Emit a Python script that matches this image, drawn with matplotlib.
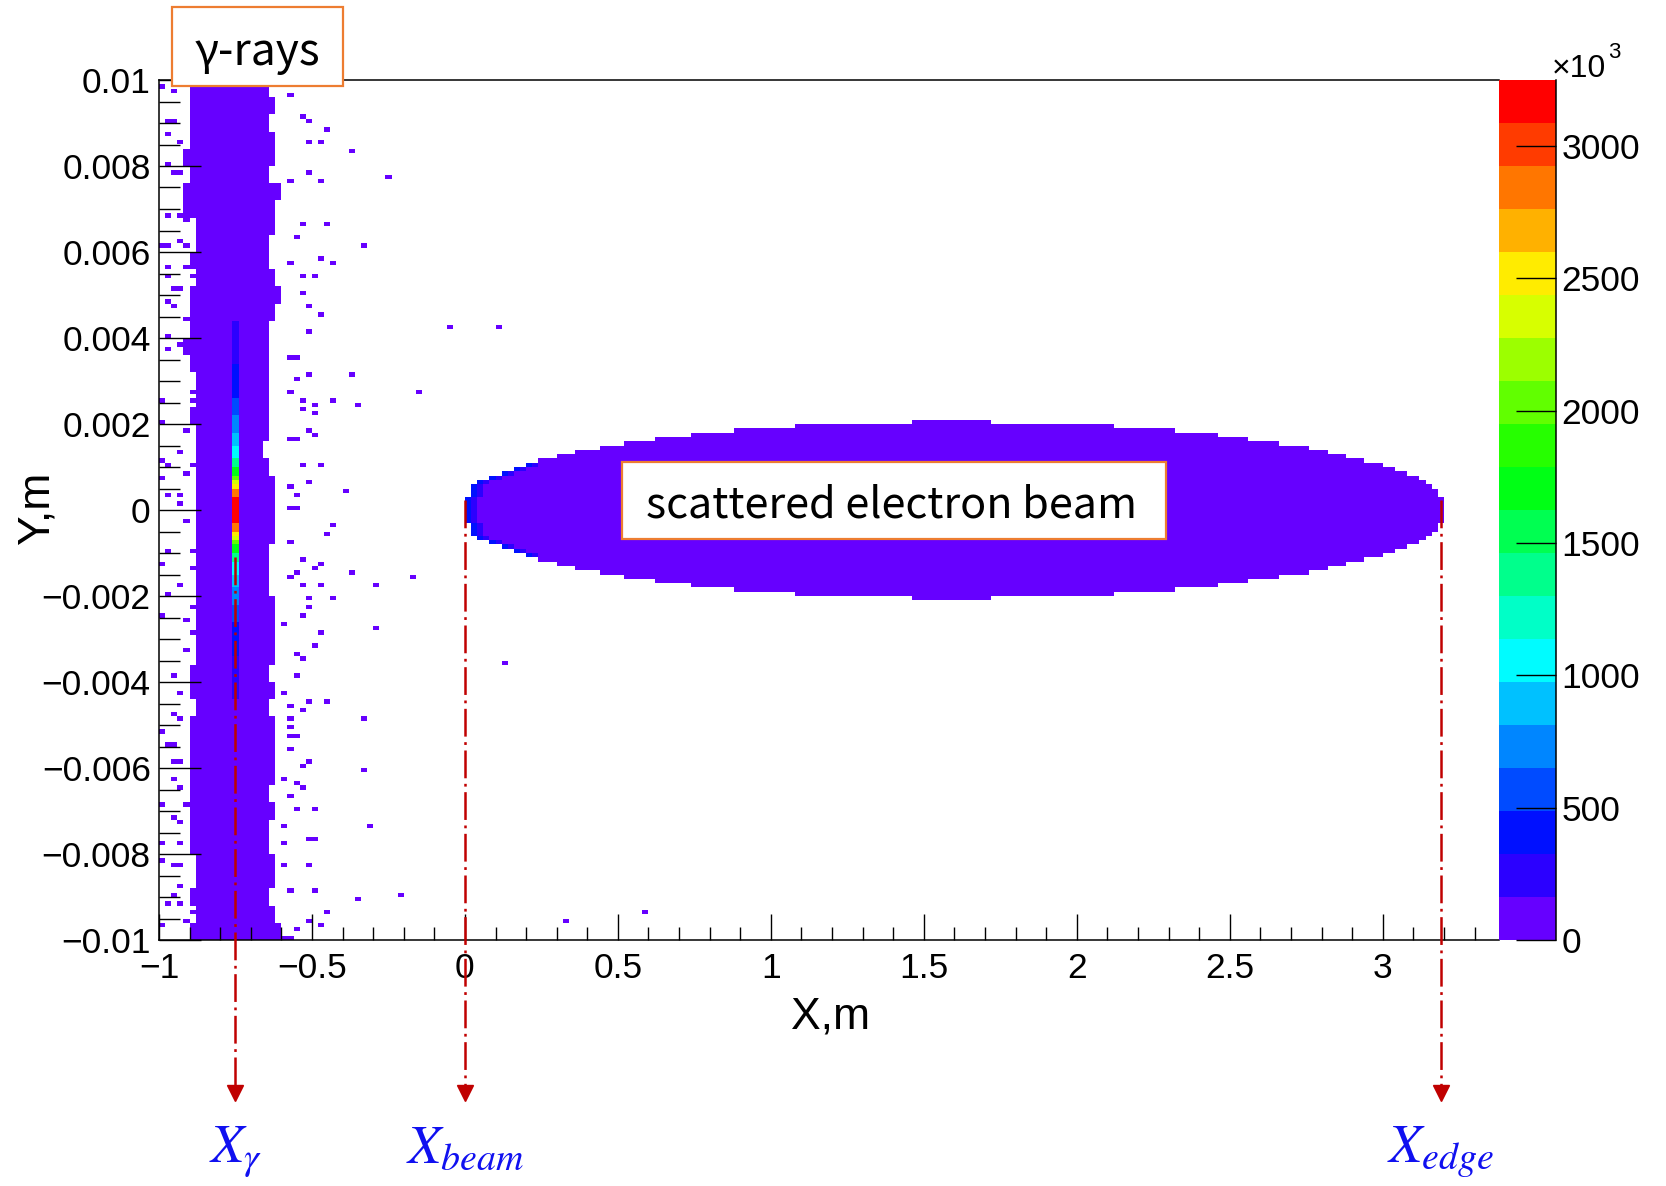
import numpy as np
import matplotlib
matplotlib.use('Agg')
import matplotlib.pyplot as plt
from matplotlib.colors import ListedColormap, BoundaryNorm, hsv_to_rgb
from matplotlib.patches import Rectangle
from matplotlib.ticker import MultipleLocator
from matplotlib.transforms import blended_transform_factory

plt.rcParams['font.family'] = ['Liberation Sans', 'DejaVu Sans']
plt.rcParams['lines.scale_dashes'] = False

# ---- histogram binning (x: 0.02 m, y: 0.0001 m)
x_lo, x_hi, x_bin = -1.0, 3.4, 0.02
y_lo, y_hi, y_bin = -0.01, 0.01, 0.0001

# ---- counts are in units of 10^3
z_max = 3250
n_levels = 20

# gamma band: solid core edges per 0.0004 m slice, from top (y=0.01) to bottom
band_left = [-0.90, -0.90, -0.90, -0.90, -0.92, -0.90, -0.92, -0.92, -0.88, -0.88,
             -0.90, -0.88, -0.90, -0.90, -0.90, -0.92, -0.90,
             -0.88, -0.88, -0.90, -0.88, -0.88, -0.88, -0.88, -0.88, -0.88, -0.88,
             -0.88, -0.88, -0.88, -0.88, -0.88, -0.88, -0.88,
             -0.90, -0.90, -0.88, -0.90, -0.90, -0.90, -0.90, -0.90, -0.90, -0.90,
             -0.90, -0.88, -0.88, -0.90, -0.88, -0.90]
band_right = [-0.64, -0.62, -0.64, -0.62, -0.62, -0.64, -0.60, -0.62, -0.62, -0.64,
              -0.64, -0.62, -0.60, -0.62, -0.64, -0.64, -0.64,
              -0.64, -0.64, -0.64, -0.64, -0.66, -0.64, -0.62, -0.62, -0.62, -0.62,
              -0.64, -0.64, -0.64, -0.62, -0.62, -0.62, -0.62,
              -0.64, -0.62, -0.64, -0.62, -0.62, -0.62, -0.62, -0.64, -0.62, -0.64,
              -0.64, -0.62, -0.62, -0.64, -0.62, -0.60]
band_value = 60

# gamma peak column at x = -0.75: rows counted from y = 0 outwards
gamma_x = -0.75
gamma_col_rows = [3, 5, 6, 7, 8, 10, 12, 15, 18, 22, 26, 34, 44]
gamma_col_vals = [3150, 2850, 2550, 2300, 2000, 1700, 1350, 1050, 900, 720, 560, 400, 250]

# isolated hits around the band
stray_x = [-0.575, -0.532, -0.509, -0.444, -0.51, -0.466, -0.38, -0.51, -0.248, -0.575,
           -0.466, -0.532, -0.444, -0.554, -0.335, -0.466, -0.422, -0.575, -0.532, -0.488,
           -0.532, -0.51, -0.466, -0.05, 0.10, -0.51, -0.54, -0.56,
           -0.509, -0.38, -0.554, -0.159, -0.575, -0.532, -0.422, -0.488, -0.357, -0.532,
           -0.488, -0.51, -0.488, -0.554, -0.575, -0.532, -0.466, -0.51, -0.575, -0.40,
           -0.554, -0.54, -0.56, -0.422, -0.444, -0.575, -0.532, -0.466, -0.488, -0.554,
           -0.38, -0.18, -0.575, -0.532, -0.466, -0.29, -0.51, -0.422, -0.51, -0.532,
           -0.597, -0.29, -0.466, -0.488, -0.554,
           -0.532, 0.124, -0.554, -0.597, -0.51, -0.444, -0.575, -0.532, -0.335, -0.575,
           -0.575, -0.54, -0.56, -0.575, -0.51, -0.532, -0.335, -0.597, -0.554, -0.532,
           -0.575, -0.554, -0.488, -0.313, -0.59, -0.50, -0.52, -0.597, -0.52, -0.597,
           -0.563, -0.488, -0.357, -0.202, -0.444, 0.587, -0.51, -0.466, 0.323, -0.554,
           -0.563, -0.583,
           -0.99, -0.95, -0.97, -0.95, -0.97, -0.93, -0.97, -0.93, -0.95, -0.97,
           -0.93, -0.91, -0.99, -0.97, -0.93, -0.91, -0.97, -0.91, -0.97, -0.89,
           -0.95, -0.93, -0.97, -0.95, -0.91, -0.89, -0.97, -0.93, -0.97,
           -0.99, -0.89, -0.89, -0.99, -0.91, -0.93, -0.99, -0.97, -0.89, -0.91,
           -0.99, -0.97, -0.93, -0.93, -0.91, -0.97, -0.89, -0.99, -0.89, -0.93,
           -0.97, -0.89, -0.99, -0.91, -0.89, -0.91,
           -0.95, -0.93, -0.95, -0.93, -0.99, -0.97, -0.95, -0.95, -0.93, -0.95,
           -0.93, -0.99, -0.91, -0.95, -0.93, -0.99, -0.93, -0.95, -0.93, -0.99,
           -0.93, -0.95, -0.97, -0.93, -0.89, -0.99, -0.91]
stray_y = [0.00967, 0.00917, 0.00905, 0.00886, 0.00855, 0.00855, 0.00836, 0.00786, 0.00775, 0.00767,
           0.00767, 0.00667, 0.00667, 0.00636, 0.00616, 0.00586, 0.00574, 0.00574, 0.00544, 0.00544,
           0.00505, 0.00474, 0.00455, 0.00425, 0.00427, 0.00416, 0.00354, 0.00354,
           0.00316, 0.00316, 0.00305, 0.00275, 0.00275, 0.00256, 0.00256, 0.00244, 0.00244, 0.00236,
           0.00227, 0.00186, 0.00174, 0.00167, 0.00167, 0.00105, 0.00105, 0.00066, 0.00056, 0.00044,
           0.00036, 0.00002, 0.00002, -0.00035, -0.00057, -0.00074, -0.00115, -0.00126, -0.00134, -0.00146,
           -0.00146, -0.00157, -0.00157, -0.00174, -0.00178, -0.00178, -0.00204, -0.00204, -0.00226, -0.00246,
           -0.00265, -0.00274, -0.00284, -0.00316, -0.00334,
           -0.00347, -0.00356, -0.00385, -0.00424, -0.00446, -0.00446, -0.00456, -0.00465, -0.00484, -0.00484,
           -0.00504, -0.00526, -0.00526, -0.00557, -0.00586, -0.00596, -0.00605, -0.00626, -0.00634, -0.00646,
           -0.00661, -0.00696, -0.00696, -0.00735, -0.00735, -0.00766, -0.00766, -0.00772, -0.00828, -0.00828,
           -0.00886, -0.0089, -0.00905, -0.00895, -0.00935, -0.00935, -0.00958, -0.00965, -0.00958, -0.00974,
           -0.00998, -0.00998,
           0.00986, 0.00975, 0.00905, 0.00905, 0.00874, 0.00852, 0.00804, 0.00787, 0.00787, 0.00687,
           0.00687, 0.00677, 0.00616, 0.00616, 0.00628, 0.00613, 0.00566, 0.00566, 0.0054, 0.00547,
           0.00518, 0.00518, 0.00487, 0.00476, 0.00445, 0.00445, 0.00405, 0.00384, 0.00376,
           0.00256, 0.00279, 0.00256, 0.00204, 0.00186, 0.00134, 0.00116, 0.00105, 0.00105, 0.00089,
           0.00075, 0.00035, 0.00035, 0.00012, -0.00027, -0.00097, -0.00097, -0.00126, -0.0013, -0.00174,
           -0.00196, -0.0022, -0.00244, -0.00256, -0.0029, -0.0033,
           -0.00385, -0.00426, -0.00475, -0.00484, -0.00515, -0.00544, -0.00544, -0.00586, -0.00586, -0.00626,
           -0.00648, -0.00682, -0.00682, -0.00713, -0.00724, -0.00774, -0.00774, -0.00825, -0.00825, -0.00814,
           -0.00874, -0.00895, -0.00915, -0.00915, -0.00934, -0.00965, -0.00958]

# scattered electron beam: x extent of each row, counted from y = 0 outwards
beam_x0 = [0.00, 0.00, 0.00, 0.02, 0.02, 0.02, 0.04, 0.08, 0.12, 0.16, 0.20,
           0.24, 0.30, 0.36, 0.44, 0.52, 0.62, 0.74, 0.88, 1.08, 1.46]
beam_x1 = [3.20, 3.20, 3.20, 3.18, 3.18, 3.16, 3.14, 3.12, 3.08, 3.04, 3.00,
           2.94, 2.88, 2.82, 2.76, 2.66, 2.56, 2.46, 2.32, 2.12, 1.72]
beam_value = 60
beam_tip_vals = [400, 250]   # first two bins of each row near the tip
beam_tip_rows = 11

# marked positions
mark_x = [-0.75, 0.0, 3.19]
mark_labels = [r'$X_{\gamma}$', r'$X_{beam}$', r'$X_{edge}$']

x_tick_vals = [-1, -0.5, 0, 0.5, 1, 1.5, 2, 2.5, 3]
x_tick_text = ['\u22121', '\u22120.5', '0', '0.5', '1', '1.5', '2', '2.5', '3']
y_tick_vals = [0.01, 0.008, 0.006, 0.004, 0.002, 0, -0.002, -0.004, -0.006, -0.008, -0.01]
y_tick_text = ['0.01', '0.008', '0.006', '0.004', '0.002', '0', '\u22120.002', '\u22120.004',
               '\u22120.006', '\u22120.008', '\u22120.01']
z_tick_vals = [0, 500, 1000, 1500, 2000, 2500, 3000]

# ---- fill histogram
nx = int(round((x_hi - x_lo) / x_bin))
ny = int(round((y_hi - y_lo) / y_bin))
x_edges = np.linspace(x_lo, x_hi, nx + 1)
y_edges = np.linspace(y_lo, y_hi, ny + 1)
h = np.zeros((ny, nx))

def xbin(x):
    return int(round((x - x_lo) / x_bin))

for g in range(len(band_left)):
    for r in range(4):
        i = ny - 1 - 4 * g - r
        h[i, xbin(band_left[g]):xbin(band_right[g])] = band_value

for sx, sy in zip(stray_x, stray_y):
    j = int(np.floor((sx - x_lo) / x_bin))
    i = int(np.floor((sy - y_lo) / y_bin))
    if h[i, j] == 0:
        h[i, j] = band_value

jg = int(np.floor((gamma_x - x_lo) / x_bin))
prev = 0
for rows, v in zip(gamma_col_rows, gamma_col_vals):
    for n in range(prev + 1, rows + 1):
        h[ny // 2 + n - 1, jg] = v
        h[ny // 2 - n, jg] = v
    prev = rows

for n in range(1, len(beam_x0) + 1):
    j0, j1 = xbin(beam_x0[n - 1]), xbin(beam_x1[n - 1])
    for i in (ny // 2 + n - 1, ny // 2 - n):
        h[i, j0:j1] = beam_value
        if n <= beam_tip_rows:
            for k, tv in enumerate(beam_tip_vals):
                h[i, j0 + k] = tv

# ROOT-like rainbow palette, 20 flat levels
hues = np.linspace(264, 0, n_levels) / 360.0
cols = hsv_to_rgb(np.stack([hues, np.ones(n_levels), np.ones(n_levels)], axis=1))
cmap = ListedColormap(cols)
bounds = np.linspace(0, z_max, n_levels + 1)
norm = BoundaryNorm(bounds, cmap.N)

W, H = 1666, 1186
fig = plt.figure(figsize=(W / 100, H / 100), dpi=100)
ax = fig.add_axes([159 / W, 1 - 940 / H, (1499 - 159) / W, (940 - 80) / H])
cax = fig.add_axes([1499 / W, 1 - 940 / H, (1556 - 1499) / W, (940 - 80) / H])

mesh = ax.pcolormesh(x_edges, y_edges, np.ma.masked_equal(h, 0), cmap=cmap, norm=norm,
                     shading='flat', antialiased=False, linewidth=0)
ax.set_xlim(-1, 3.38)
ax.set_ylim(-0.01, 0.01)

tick_font = 25.5
ax.set_xticks(x_tick_vals)
ax.set_xticklabels(x_tick_text, fontsize=tick_font)
ax.set_yticks(y_tick_vals)
ax.set_yticklabels(y_tick_text, fontsize=tick_font)
ax.xaxis.set_minor_locator(MultipleLocator(0.1))
ax.yaxis.set_minor_locator(MultipleLocator(0.0005))
ax.tick_params(axis='x', which='major', direction='in', length=19, width=1.0, pad=9)
ax.tick_params(axis='x', which='minor', direction='in', length=9.5, width=1.0)
ax.tick_params(axis='y', which='major', direction='in', length=30, width=1.0, pad=6)
ax.tick_params(axis='y', which='minor', direction='in', length=15, width=1.0)
for s in ['left', 'bottom', 'top']:
    ax.spines[s].set_linewidth(1.1)
ax.spines['right'].set_visible(False)

fig.text(831 / W, 1 - 1017 / H, 'X,m', fontsize=32, ha='center', va='center')
fig.text(37 / W, 1 - 508 / H, 'Y,m', fontsize=32, ha='center', va='center', rotation=90)

cb = fig.colorbar(mesh, cax=cax, ticks=z_tick_vals)
cb.outline.set_visible(False)
cb.ax.set_yticklabels([str(v) for v in z_tick_vals])
cb.ax.tick_params(direction='in', length=29, width=1.0, labelsize=tick_font, pad=4)
cb.ax.minorticks_off()
cax.plot([1, 1], [0, 1], transform=cax.transAxes, color='black', lw=1.1, clip_on=False)
fig.text(1552 / W, 1 - 77 / H, '\u00d710', fontsize=23, ha='left', va='baseline')
fig.text(1608 / W, 1 - 58 / H, '3', fontsize=16, ha='left', va='baseline')

# annotation boxes
box_font = ['Noto Sans CJK SC', 'DejaVu Sans']
orange = '#ED7D31'
fig.add_artist(Rectangle((172 / W, 1 - 86 / H), (343 - 172) / W, (86 - 7) / H,
                         transform=fig.transFigure, fc='white', ec=orange, lw=1.6, zorder=10))
fig.text(257 / W, 1 - 52 / H, '\u03b3-rays', fontsize=32, family=box_font,
         ha='center', va='center', zorder=11)
fig.add_artist(Rectangle((622 / W, 1 - 539 / H), (1166 - 622) / W, (539 - 462) / H,
                         transform=fig.transFigure, fc='white', ec=orange, lw=1.6, zorder=10))
fig.text(891 / W, 1 - 505 / H, 'scattered electron beam', fontsize=31, family=box_font,
         ha='center', va='center', zorder=11)

# dash-dot markers with arrowheads
red = '#C00000'
trans = blended_transform_factory(ax.transData, fig.transFigure)
line_top = [557, 500, 500]
for xv, top, lab in zip(mark_x, line_top, mark_labels):
    ax.plot([xv, xv], [1 - top / H, 1 - 1088 / H], transform=trans, color=red, lw=1.8,
            ls=(0, (20, 4, 2, 4)), clip_on=False, zorder=8)
    ax.plot([xv], [1 - 1093 / H], transform=trans, marker='v', ms=11, color=red,
            mec=red, clip_on=False, zorder=8)
    fig.text(0, 1 - 1163 / H, lab, fontsize=39, color='#1010F0', ha='center',
             va='baseline', math_fontfamily='stix',
             transform=trans).set_x(xv)

fig.savefig('out.png', dpi=100)
